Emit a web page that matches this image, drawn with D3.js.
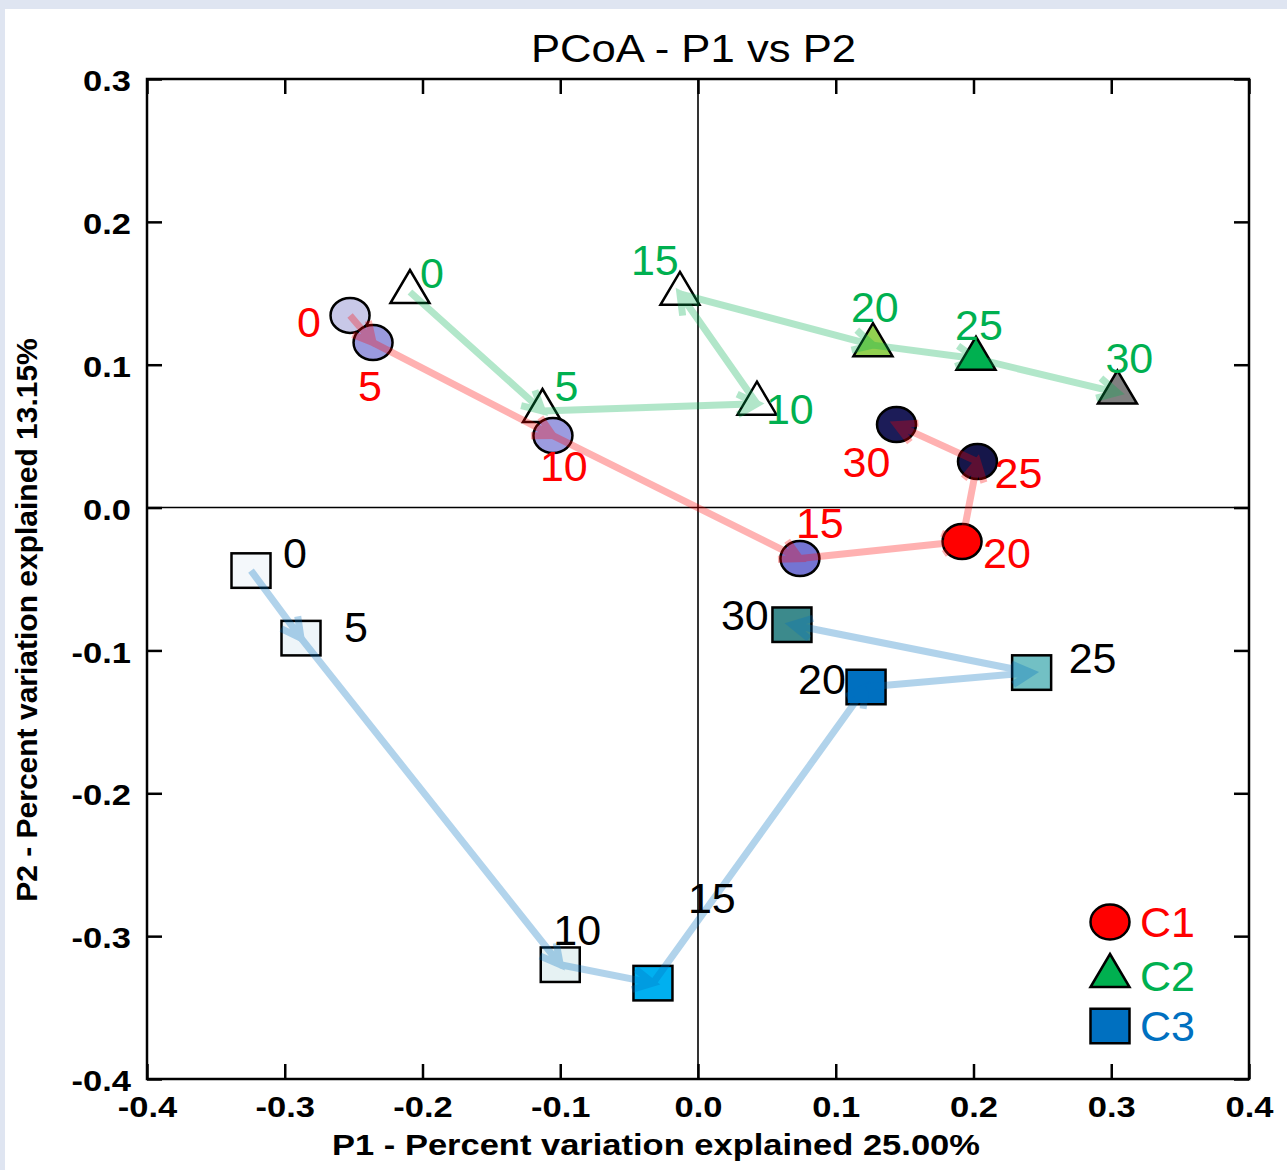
<!DOCTYPE html>
<html>
<head>
<meta charset="utf-8">
<script src="https://cdn.jsdelivr.net/npm/d3@7.9.0/dist/d3.min.js"></script>
<style>
  body { margin: 0; background: #fff; }
  svg { display: block; font-family: "Liberation Sans", Arial, sans-serif; }
</style>
</head>
<body>
<div id="chart"></div>
<script>
// time points shared by the three series
const timepoints = [0, 5, 10, 15, 20, 25, 30];

// C1 (circles)
const c1X = [-0.2526, -0.2359, -0.1053, 0.0740, 0.1917, 0.2029, 0.1441];
const c1Y = [0.1345, 0.1155, 0.0504, -0.0357, -0.0238, 0.0322, 0.0581];
// C2 (triangles)
const c2X = [-0.2091, -0.1129, 0.0428, -0.0131, 0.1270, 0.2018, 0.3045];
const c2Y = [0.1509, 0.0676, 0.0727, 0.1496, 0.1137, 0.1042, 0.0805];
// C3 (squares)
const c3X = [-0.3245, -0.2882, -0.1000, -0.0327, 0.1220, 0.2422, 0.0682];
const c3Y = [-0.0441, -0.0914, -0.3200, -0.3329, -0.1256, -0.1155, -0.0820];

const xTicks = [-0.4, -0.3, -0.2, -0.1, 0.0, 0.1, 0.2, 0.3, 0.4];
const yTicks = [-0.4, -0.3, -0.2, -0.1, 0.0, 0.1, 0.2, 0.3];

// marker fills per time point
const c1Fill = ['#c8c8e8', '#9a9ade', '#9c9ce0', '#7474d2', '#ff0000', '#16164a', '#1c1c58'];
const c2Fill = ['#ffffff', '#ffffff', '#ffffff', '#ffffff', '#92d050', '#00b050', '#808080'];
const c3Fill = ['#f4f8fb', '#eef5f9', '#e6f2f3', '#00b0f0', '#0070c0', '#72c0c4', '#3c8a8c'];

// label offsets (px) from each marker centre to the label's start/baseline
const c1Lab = [[-53, 22], [-15, 58], [-13, 45], [-4, -21], [21, 26], [17, 26], [-54, 52]];
const c2Lab = [[10, -4], [12, -10], [9, 20], [-49, -19], [-22, -23], [-21, -19], [-12, -20]];
const c3Lab = [[32, -3], [43, 4], [-7, -20], [35, -70], [-68, 7], [37, 0], [-71, 5]];

const series = [
  { name: 'C3', shape: 'square', xs: c3X, ys: c3Y, fills: c3Fill, lab: c3Lab, color: '#0070c0', labelColor: '#000000' },
  { name: 'C2', shape: 'triangle', xs: c2X, ys: c2Y, fills: c2Fill, lab: c2Lab, color: '#00b050', labelColor: '#00b050' },
  { name: 'C1', shape: 'circle', xs: c1X, ys: c1Y, fills: c1Fill, lab: c1Lab, color: '#ff0000', labelColor: '#ff0000' },
];

const width = 1287, height = 1170;
const plot = { left: 147, right: 1249, top: 79, bottom: 1079 };
const stretch = 1.15;

const svg = d3.select('#chart').append('svg')
  .attr('width', width).attr('height', height);

// screenshot-like border strip
svg.append('rect').attr('width', width).attr('height', height).attr('fill', '#dfe5f1');
svg.append('rect').attr('x', 5).attr('y', 9).attr('width', width - 5).attr('height', height - 9).attr('fill', '#fff');

const x = d3.scaleLinear().domain([-0.4, 0.4]).range([plot.left, plot.right]);
const y = d3.scaleLinear().domain([-0.4, 0.3]).range([plot.bottom, plot.top]);

const fmt = (d) => d.toFixed(1);

// axes with inward ticks
const gx = svg.append('g').attr('transform', `translate(0,${plot.bottom})`)
  .call(d3.axisBottom(x).tickValues(xTicks).tickFormat(fmt).tickSizeInner(-15).tickSizeOuter(0).tickPadding(17));
const gy = svg.append('g').attr('transform', `translate(${plot.left},0)`)
  .call(d3.axisLeft(y).tickValues(yTicks).tickFormat(fmt).tickSizeInner(-15).tickSizeOuter(0).tickPadding(14));
const gt = svg.append('g').attr('transform', `translate(0,${plot.top})`)
  .call(d3.axisTop(x).tickValues(xTicks).tickFormat('').tickSizeInner(-15).tickSizeOuter(0));
const gr = svg.append('g').attr('transform', `translate(${plot.right},0)`)
  .call(d3.axisRight(y).tickValues(yTicks).tickFormat('').tickSizeInner(-15).tickSizeOuter(0));

[gx, gy, gt, gr].forEach((g) => {
  g.select('.domain').remove();
  g.selectAll('line').attr('stroke', '#000').attr('stroke-width', 2.5);
});
[gx, gy].forEach((g) => {
  g.selectAll('text')
    .attr('fill', '#000')
    .attr('font-family', '"Liberation Sans", Arial, sans-serif')
    .attr('font-size', 30)
    .attr('font-weight', 'bold')
    .attr('transform', `scale(${stretch},1)`);
});
gy.selectAll('text').attr('dy', '0.39em');

// zero lines
svg.append('line')
  .attr('x1', x(0)).attr('x2', x(0)).attr('y1', plot.top).attr('y2', plot.bottom)
  .attr('stroke', '#000').attr('stroke-width', 1.6);
svg.append('line')
  .attr('x1', plot.left).attr('x2', plot.right).attr('y1', y(0)).attr('y2', y(0))
  .attr('stroke', '#000').attr('stroke-width', 1.6);

// frame
svg.append('rect')
  .attr('x', plot.left).attr('y', plot.top)
  .attr('width', plot.right - plot.left).attr('height', plot.bottom - plot.top)
  .attr('fill', 'none').attr('stroke', '#000').attr('stroke-width', 2.5);

// marker drawing
function drawMarker(g, shape, cx, cy, fill) {
  if (shape === 'circle') {
    g.append('ellipse').attr('cx', cx).attr('cy', cy).attr('rx', 19.5).attr('ry', 17.5)
      .attr('fill', fill).attr('stroke', '#000').attr('stroke-width', 2.5);
  } else if (shape === 'triangle') {
    const pts = [[cx, cy - 22], [cx + 19.5, cy + 11], [cx - 19.5, cy + 11]];
    g.append('path').attr('d', 'M' + pts.join('L') + 'Z')
      .attr('fill', fill).attr('stroke', '#000').attr('stroke-width', 2.5).attr('stroke-linejoin', 'miter');
  } else {
    g.append('rect').attr('x', cx - 19.5).attr('y', cy - 17.25).attr('width', 39).attr('height', 34.5)
      .attr('fill', fill).attr('stroke', '#000').attr('stroke-width', 2.5);
  }
}

const markers = svg.append('g');
series.forEach((s) => {
  s.xs.forEach((v, i) => drawMarker(markers, s.shape, x(v), y(s.ys[i]), s.fills[i]));
});

// trajectory arrows, drawn over the markers
const headLen = 22, headAng = 28 * Math.PI / 180;
series.forEach((s) => {
  const g = svg.append('g').attr('opacity', 0.3);
  for (let i = 1; i < s.xs.length; i++) {
    const x1 = x(s.xs[i - 1]), y1 = y(s.ys[i - 1]);
    const x2 = x(s.xs[i]), y2 = y(s.ys[i]);
    const a = Math.atan2(y2 - y1, x2 - x1);
    const p = d3.path();
    p.moveTo(x1, y1); p.lineTo(x2, y2);
    p.moveTo(x2 - headLen * Math.cos(a - headAng), y2 - headLen * Math.sin(a - headAng));
    p.lineTo(x2, y2);
    p.lineTo(x2 - headLen * Math.cos(a + headAng), y2 - headLen * Math.sin(a + headAng));
    g.append('path').attr('d', p.toString())
      .attr('fill', 'none').attr('stroke', s.color).attr('stroke-width', 7)
      .attr('stroke-linejoin', 'miter');
  }
});

// time point labels
series.forEach((s) => {
  svg.append('g').selectAll('text')
    .data(timepoints)
    .join('text')
    .attr('x', (d, i) => x(s.xs[i]) + s.lab[i][0])
    .attr('y', (d, i) => y(s.ys[i]) + s.lab[i][1])
    .attr('font-size', 43)
    .attr('fill', s.labelColor)
    .text((d) => d);
});

// title and axis titles
svg.append('text')
  .attr('transform', `translate(693.5,62) scale(1.12,1)`)
  .attr('text-anchor', 'middle').attr('font-size', 39)
  .text('PCoA - P1 vs P2');
svg.append('text')
  .attr('transform', `translate(656,1155) scale(${stretch},1)`)
  .attr('text-anchor', 'middle').attr('font-size', 30).attr('font-weight', 'bold')
  .text('P1 - Percent variation explained 25.00%');
svg.append('text')
  .attr('transform', `translate(37,620) rotate(-90)`)
  .attr('text-anchor', 'middle').attr('font-size', 30).attr('font-weight', 'bold')
  .text('P2 - Percent variation explained 13.15%');

// legend
const legendNames = ['C1', 'C2', 'C3'];
const legendShapes = ['circle', 'triangle', 'square'];
const legendFill = ['#ff0000', '#00b050', '#0070c0'];
const legendCenters = [922, 976, 1026];
const legend = svg.append('g');
legendNames.forEach((n, i) => {
  drawMarker(legend, legendShapes[i], 1110, legendCenters[i], legendFill[i]);
  legend.append('text')
    .attr('x', 1140).attr('y', legendCenters[i] + 15)
    .attr('font-size', 43).attr('fill', legendFill[i])
    .text(n);
});
</script>
</body>
</html>
